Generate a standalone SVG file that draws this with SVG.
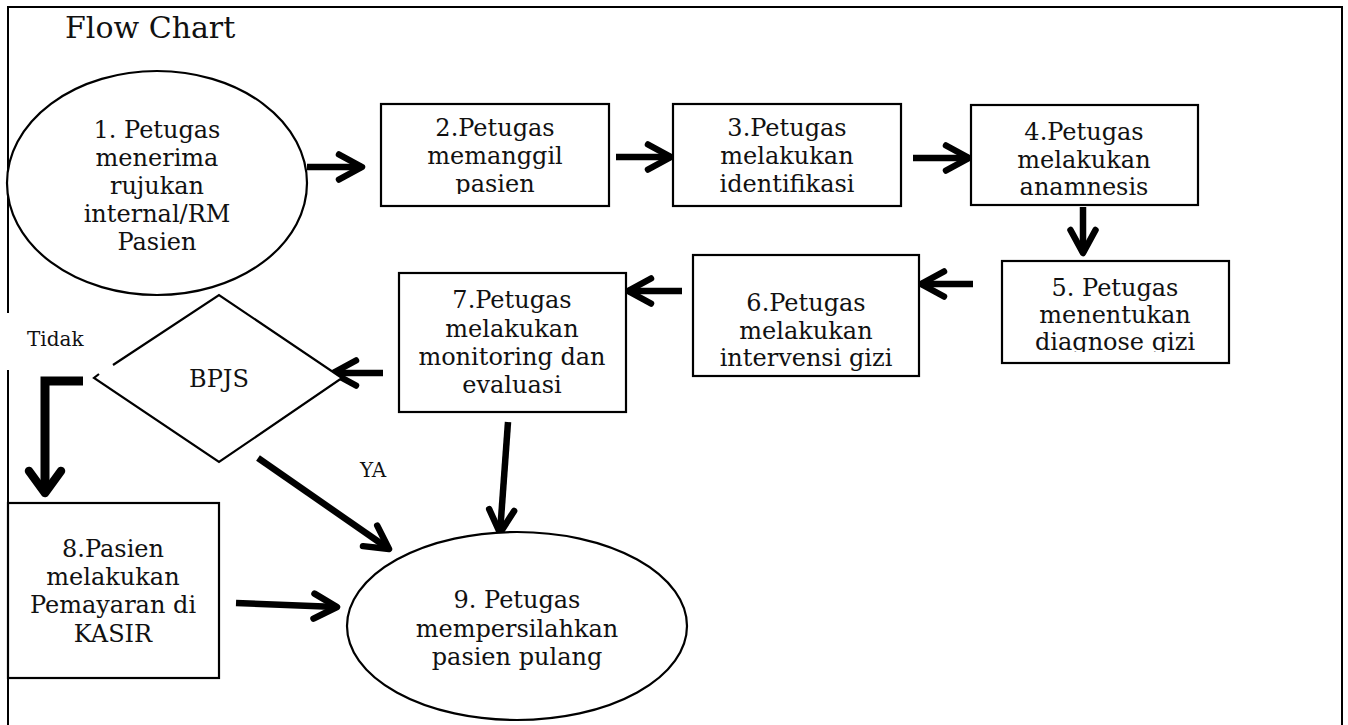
<svg xmlns="http://www.w3.org/2000/svg" width="1348" height="725" viewBox="0 0 1348 725">
  <style>
    .frame { fill: none; stroke: #000; stroke-width: 2; }
    .box { fill: #fff; stroke: #000; stroke-width: 2.2; }
    .t { font-family: "DejaVu Serif", "Liberation Serif", serif; font-size: 24px; fill: #111; text-anchor: middle; }
    .title { font-family: "DejaVu Serif", "Liberation Serif", serif; font-size: 30px; fill: #111; }
    .lbl { font-family: "DejaVu Serif", "Liberation Serif", serif; font-size: 20px; fill: #111; }
    .edge { fill: none; stroke: #000; stroke-width: 6.5; }
    .edge-bold { fill: none; stroke: #000; stroke-width: 9; stroke-linejoin: miter; }
  </style>
  <defs>
    <marker id="head" markerUnits="userSpaceOnUse" markerWidth="60" markerHeight="60" viewBox="-30 -30 60 60" refX="0" refY="0" orient="auto" overflow="visible">
      <path d="M-23,-12.5 L0,0 L-23,12.5" fill="none" stroke="#000" stroke-width="6.5" stroke-linecap="round" stroke-linejoin="round"/>
    </marker>
    <marker id="head-bold" markerUnits="userSpaceOnUse" markerWidth="60" markerHeight="60" viewBox="-30 -30 60 60" refX="0" refY="0" orient="auto" overflow="visible">
      <path d="M-22,-16 L0,0 L-22,16" fill="none" stroke="#000" stroke-width="8.5" stroke-linecap="round" stroke-linejoin="round"/>
    </marker>
    <clipPath id="clip-n2"><rect x="381" y="104" width="228" height="90"/></clipPath>
    <clipPath id="clip-n5"><rect x="1002" y="261" width="227" height="91"/></clipPath>
  </defs>

  <!-- page frame (open at the bottom) -->
  <g id="frame">
    <path class="frame" d="M8,725 V370 M8,313 V7 H1342 V725"/>
  </g>

  <text class="title" x="65" y="38">Flow Chart</text>

  <!-- connectors -->
  <g id="connectors">
    <line class="edge" x1="307" y1="167" x2="362" y2="167" marker-end="url(#head)"/>
    <line class="edge" x1="616" y1="157" x2="671" y2="157" marker-end="url(#head)"/>
    <line class="edge" x1="913" y1="158" x2="969" y2="158" marker-end="url(#head)"/>
    <line class="edge" x1="1083" y1="207" x2="1083" y2="253" marker-end="url(#head)"/>
    <line class="edge" x1="973" y1="284" x2="921" y2="284" marker-end="url(#head)"/>
    <line class="edge" x1="682" y1="291" x2="628" y2="291" marker-end="url(#head)"/>
    <line class="edge" x1="383" y1="373" x2="333" y2="373" marker-end="url(#head)"/>
    <path class="edge-bold" d="M83,381 H45 V493" marker-end="url(#head-bold)"/>
    <line class="edge" x1="258" y1="458" x2="389" y2="549" stroke-width="7.5" marker-end="url(#head)"/>
    <line class="edge" x1="508" y1="422" x2="500" y2="533" marker-end="url(#head)"/>
    <line class="edge" x1="236" y1="603" x2="337" y2="607" marker-end="url(#head)"/>
    <text class="lbl" x="27" y="346">Tidak</text>
    <text class="lbl" x="360" y="477">YA</text>
  </g>

  <g id="n1">
    <ellipse class="box" cx="157" cy="183" rx="150" ry="112"/>
    <text class="t" x="157" y="138">1. Petugas</text>
    <text class="t" x="157" y="166">menerima</text>
    <text class="t" x="157" y="194">rujukan</text>
    <text class="t" x="157" y="222">internal/RM</text>
    <text class="t" x="157" y="250">Pasien</text>
  </g>

  <g id="n2">
    <rect class="box" x="381" y="104" width="228" height="102"/>
    <g clip-path="url(#clip-n2)">
      <text class="t" x="495" y="136">2.Petugas</text>
      <text class="t" x="495" y="164">memanggil</text>
      <text class="t" x="495" y="192">pasien</text>
    </g>
  </g>

  <g id="n3">
    <rect class="box" x="673" y="104" width="228" height="102"/>
    <text class="t" x="787" y="136">3.Petugas</text>
    <text class="t" x="787" y="164">melakukan</text>
    <text class="t" x="787" y="192">identifikasi</text>
  </g>

  <g id="n4">
    <rect class="box" x="971" y="105" width="227" height="100"/>
    <text class="t" x="1084" y="140">4.Petugas</text>
    <text class="t" x="1084" y="168">melakukan</text>
    <text class="t" x="1084" y="195">anamnesis</text>
  </g>

  <g id="n5">
    <rect class="box" x="1002" y="261" width="227" height="102"/>
    <g clip-path="url(#clip-n5)">
      <text class="t" x="1115" y="296">5. Petugas</text>
      <text class="t" x="1115" y="323">menentukan</text>
      <text class="t" x="1115" y="350">diagnose gizi</text>
    </g>
  </g>

  <g id="n6">
    <rect class="box" x="693" y="255" width="226" height="121"/>
    <text class="t" x="806" y="311">6.Petugas</text>
    <text class="t" x="806" y="339">melakukan</text>
    <text class="t" x="806" y="366">intervensi gizi</text>
  </g>

  <g id="n7">
    <rect class="box" x="399" y="273" width="227" height="139"/>
    <text class="t" x="512" y="308">7.Petugas</text>
    <text class="t" x="512" y="337">melakukan</text>
    <text class="t" x="512" y="365">monitoring dan</text>
    <text class="t" x="512" y="393">evaluasi</text>
  </g>

  <g id="decision">
    <path class="box" fill="none" d="M113,365 L219,295 L342,378 L219,462 L94,378 L99,374"/>
    <text class="t" x="219" y="387">BPJS</text>
  </g>

  <g id="n8">
    <rect class="box" x="8" y="503" width="211" height="175"/>
    <text class="t" x="113" y="557">8.Pasien</text>
    <text class="t" x="113" y="585">melakukan</text>
    <text class="t" x="113" y="613">Pemayaran di</text>
    <text class="t" x="113" y="642">KASIR</text>
  </g>

  <g id="n9">
    <ellipse class="box" cx="517" cy="626" rx="170" ry="94"/>
    <text class="t" x="517" y="608">9. Petugas</text>
    <text class="t" x="517" y="637">mempersilahkan</text>
    <text class="t" x="517" y="665">pasien pulang</text>
  </g>
</svg>
